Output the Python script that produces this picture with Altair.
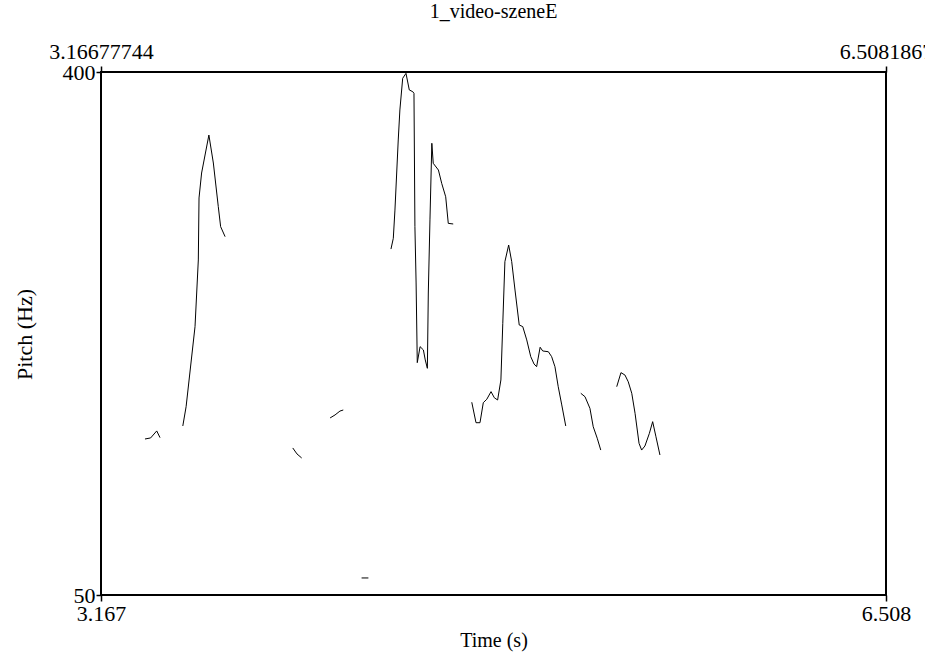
import altair as alt
import pandas as pd

T_START = 3.16677744
T_END = 6.5081867
F_MIN, F_MAX = 50, 400
TITLE = "1_video-szeneE"

# pitch contour segments (time in s, pitch in Hz)
seg1_t = [3.354, 3.378, 3.404, 3.418]
seg1_f = [154.4, 155.1, 159.8, 155.3]

seg2_t = [3.515, 3.529, 3.567, 3.581, 3.584, 3.595, 3.626, 3.645, 3.666, 3.676, 3.695]
seg2_f = [163.1, 176.0, 229.6, 274.2, 315.7, 332.4, 357.8, 339.1, 309.9, 296.5, 289.8]

seg3_t = [3.983, 4.001, 4.021]
seg3_f = [148.4, 144.4, 141.7]

seg4_t = [4.142, 4.163, 4.184, 4.198]
seg4_f = [168.5, 170.5, 173.1, 173.8]

seg5_t = [4.276, 4.305]
seg5_f = [61.4, 61.4]

seg6_t = [4.401, 4.411, 4.418, 4.432, 4.439, 4.451, 4.465, 4.479, 4.494, 4.499,
          4.503, 4.508, 4.513, 4.525, 4.539, 4.547, 4.556, 4.560, 4.567, 4.575,
          4.581, 4.603, 4.617, 4.634, 4.645, 4.666]
seg6_f = [281.5, 288.7, 307.6, 354.5, 374.6, 395.8, 399.1, 388.0, 386.8, 385.7,
          296.5, 258.8, 205.5, 216.2, 214.0, 207.3, 201.7, 252.1, 301.0, 352.3,
          338.9, 334.4, 325.5, 316.5, 298.7, 298.3]

seg7_t = [4.745, 4.763, 4.780, 4.794, 4.809, 4.827, 4.841, 4.855, 4.869, 4.877,
          4.886, 4.902, 4.915, 4.929, 4.947, 4.962, 4.979, 4.996, 5.010, 5.021,
          5.036, 5.047, 5.071, 5.085, 5.099, 5.113, 5.128, 5.145]
seg7_f = [179.0, 165.3, 165.3, 178.7, 181.0, 186.1, 182.0, 180.5, 193.9, 231.8,
          273.1, 284.2, 273.1, 254.1, 230.7, 229.6, 220.7, 209.5, 204.6, 202.8,
          215.8, 213.3, 212.8, 209.5, 202.8, 189.4, 177.2, 163.1]

seg8_t = [5.209, 5.227, 5.248, 5.262, 5.279, 5.294]
seg8_f = [185.0, 182.7, 174.9, 162.6, 154.9, 147.0]

seg9_t = [5.362, 5.380, 5.397, 5.411, 5.426, 5.440, 5.457, 5.468, 5.482, 5.501,
          5.515, 5.529, 5.546]
seg9_f = [189.4, 198.8, 197.2, 192.7, 185.0, 171.6, 151.5, 147.0, 149.7, 158.2,
          166.0, 155.9, 143.7]

segments = [(seg1_t, seg1_f), (seg2_t, seg2_f), (seg3_t, seg3_f), (seg4_t, seg4_f),
            (seg5_t, seg5_f), (seg6_t, seg6_f), (seg7_t, seg7_f), (seg8_t, seg8_f),
            (seg9_t, seg9_f)]

rows = []
for i, (ts, fs) in enumerate(segments):
    for t, f in zip(ts, fs):
        rows.append({"seg": i, "time": t, "pitch": f})
df = pd.DataFrame(rows)

FONT = "Liberation Serif"
LFS = 22   # tick labels
TFS = 20   # titles

common = dict(labelFont=FONT, labelFontSize=LFS, labelColor="black",
              titleFont=FONT, titleFontWeight="normal",
              titleColor="black", tickColor="black", tickWidth=1.5,
              grid=False, domain=False, labelFlush=False, labelOverlap=False)

x_scale = alt.Scale(domain=[T_START, T_END], nice=False, zero=False)
y_scale = alt.Scale(domain=[F_MIN, F_MAX], nice=False, zero=False)

line = alt.Chart(df).mark_line(color="black", strokeWidth=1).encode(
    x=alt.X("time:Q", scale=x_scale,
            axis=alt.Axis(orient="bottom", values=[T_START, T_END],
                          labelExpr="format(datum.value, '.3f')",
                          tickSize=6, labelPadding=2,
                          title="Time (s)", titleFontSize=TFS, titlePadding=6,
                          **common)),
    y=alt.Y("pitch:Q", scale=y_scale,
            axis=alt.Axis(values=[F_MIN, F_MAX], tickSize=5, labelPadding=1,
                          labelBaseline="middle",
                          title="Pitch (Hz)", titleFontSize=22, titleX=-77, titleY=262,
                          titleAngle=270, titleAlign="center", titleBaseline="middle",
                          **common)),
    detail="seg:N",
)

top = alt.Chart(df).mark_point(opacity=0).encode(
    x=alt.X("time:Q", scale=x_scale,
            axis=alt.Axis(orient="top", values=[T_START, T_END],
                          labelExpr="datum.value < 5 ? '3.16677744' : '6.5081867'",
                          tickSize=6, labelPadding=3, title=None, **common)),
    y=alt.value(0),
)

chart = alt.layer(line, top).resolve_axis(x="independent").properties(
    width=785, height=523,
    background="white",
    title=alt.TitleParams(TITLE, font=FONT, fontSize=TFS, fontWeight="normal",
                          color="black", anchor="middle", offset=18),
    autosize=alt.AutoSizeParams(type="none"),
    padding={"left": 101, "top": 72, "right": 39, "bottom": 58},
).configure_view(
    stroke="black", strokeWidth=2
)

chart.save("out.html", embed_options={"renderer": "svg", "actions": False})
